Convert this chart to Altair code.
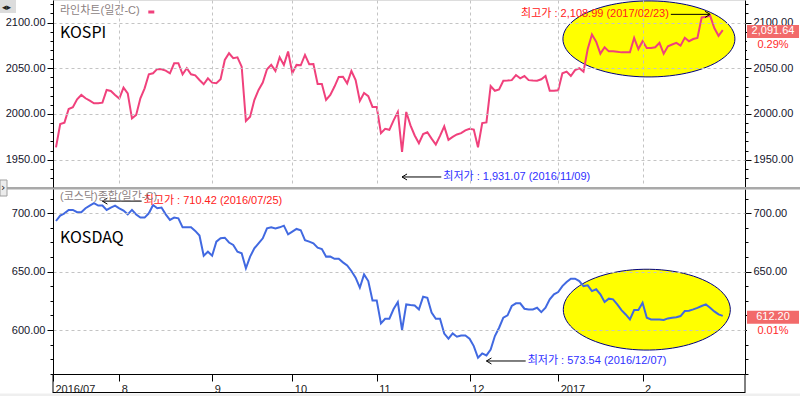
import json
import numpy as np
import pandas as pd
import altair as alt

# ---------------- data (trading-day index -> close) ----------------
kospi = [
    1963.5, 1989.0, 1990.5, 2005.5, 2007.3, 2016.1, 2020.8, 2017.2, 2014.6, 2011.7,
    2011.7, 2012.4, 2026.3, 2025.2, 2020.8, 2016.8, 2028.8, 2022.6, 1995.2, 1998.9,
    2017.2, 2028.1, 2043.4, 2044.5, 2049.3, 2048.9, 2047.4, 2044.5, 2055.5, 2055.5,
    2043.4, 2050.0, 2043.4, 2042.3, 2037.2, 2032.5, 2039.0, 2034.3, 2033.6, 2038.0,
    2059.1, 2066.4, 2061.0, 2062.0, 2051.8, 1992.3, 1997.1, 2015.3, 2026.3, 2034.3,
    2048.9, 2053.7, 2047.1, 2062.0, 2053.7, 2068.3, 2044.5, 2053.7, 2053.3, 2064.6,
    2054.4, 2054.7, 2032.8, 2032.8, 2015.3, 2020.8, 2030.0, 2040.5, 2040.8, 2033.5,
    2047.0, 2037.0, 2014.3, 2023.0, 2019.5, 2007.7, 2007.7, 1979.0, 1983.8, 1982.7,
    1993.0, 2002.2, 1958.4, 2002.2, 1987.5, 1976.5, 1968.0, 1978.0, 1980.0, 1973.0,
    1966.6, 1976.0, 1986.4, 1971.7, 1975.0, 1977.6, 1979.0, 1982.0, 1983.8, 1983.0,
    1963.6, 1990.0, 1990.8, 2030.5, 2025.4, 2026.8, 2036.4, 2036.5, 2037.0, 2042.6,
    2039.0, 2041.5, 2037.0, 2036.5, 2036.4, 2038.0, 2041.5, 2025.4, 2025.5, 2026.0,
    2044.5, 2046.3, 2041.5, 2048.0, 2050.0, 2046.3, 2071.0, 2087.0, 2079.0, 2066.0,
    2073.0, 2068.5, 2068.5, 2068.0, 2067.4, 2067.4, 2067.4, 2083.3, 2071.0, 2079.6,
    2072.2, 2072.2, 2073.0, 2077.8, 2066.0, 2074.0, 2076.0, 2077.8, 2074.8, 2083.3,
    2079.6, 2082.0, 2083.3, 2105.6, 2106.0, 2107.6, 2094.0, 2085.5, 2091.64,
]
kosdaq = [
    693.4, 698.0, 700.0, 702.9, 702.9, 700.9, 700.9, 704.3, 706.6, 708.6,
    706.6, 706.6, 702.9, 704.9, 706.6, 704.3, 702.3, 699.1, 702.9, 699.0,
    696.3, 696.3, 700.0, 707.1, 704.3, 704.9, 699.1, 694.3, 696.3, 695.7,
    688.0, 688.0, 688.0, 684.9, 681.0, 663.7, 667.1, 663.7, 675.7, 678.6,
    679.1, 675.0, 672.9, 667.1, 665.7, 652.9, 662.9, 670.0, 674.3, 678.6,
    687.1, 688.0, 687.1, 688.0, 689.4, 682.0, 684.3, 686.6, 685.5, 677.0,
    675.7, 674.3, 670.6, 669.4, 662.9, 663.0, 661.0, 661.1, 658.0, 655.4,
    650.6, 644.9, 636.3, 647.7, 642.0, 625.4, 625.4, 605.7, 609.7, 609.7,
    618.0, 624.0, 600.0, 622.0, 621.5, 621.1, 617.7, 628.6, 627.7, 615.0,
    609.7, 609.7, 597.0, 592.6, 597.1, 594.3, 595.4, 595.4, 592.6, 586.3,
    576.3, 580.0, 578.3, 583.4, 594.9, 602.0, 610.6, 612.6, 620.6, 622.9,
    622.9, 618.3, 617.7, 617.7, 619.1, 615.4, 619.1, 626.3, 630.6, 632.6,
    637.7, 641.1, 644.0, 644.0, 642.0, 637.7, 638.3, 633.4, 634.9, 630.6,
    624.0, 626.9, 626.3, 622.0, 617.1, 613.4, 609.1, 617.1, 617.1, 623.4,
    610.6, 609.1, 609.1, 609.0, 608.6, 610.0, 610.6, 611.0, 612.0, 616.3,
    616.5, 617.7, 619.0, 620.6, 622.0, 619.1, 616.0, 613.4, 612.2,
]
month_ticks = [-0.71, 15, 37, 56, 76, 98, 119, 139]
month_labels = ["2016/07", "8", "9", "10", "11", "12", "2017", "2"]
kospi_ticks = list(range(1930, 2121, 10))
kosdaq_ticks = [562.5 + 12.5 * k for k in range(13)]

# annotations: (day index of arrow head, value, label, colour, side of text)
kospi_hi = (155, 2108.99, "최고가 : 2,108.99 (2017/02/23)", "#FF2020", -1)
kospi_lo = (82, 1931.07, "최저가 : 1,931.07 (2016/11/09)", "#3030FF", 1)
kosdaq_hi = (11, 710.42, "최고가 : 710.42 (2016/07/25)", "#FF2020", 1)
kosdaq_lo = (102, 573.54, "최저가 : 573.54 (2016/12/07)", "#3030FF", 1)
kospi_pct = "0.29%"
kosdaq_pct = "0.01%"
# highlighted regions (centre day index, centre value)
kospi_zone = (140.5, 2082.1)
kosdaq_zone = (140.0, 617.5)

# ---------------- styling ----------------
FONT = "Liberation Sans, Noto Sans CJK KR, sans-serif"
KFONT = "Noto Sans CJK KR, sans-serif"
PINK = "#F0417C"
BLUE = "#4169E1"
GRID = "#C4C4C4"
LBL = "#14142B"
BOXRED = "#F26A6A"

X_DOM = [-0.71, 163.27]
TOP_DOM, TOP_RNG = [1920.1, 2124.7], [187, 0]
BOT_DOM, BOT_RNG = [562.4, 720.8], [374, 189]
ARROW = 9.3

df = pd.DataFrame({"d": list(range(len(kospi))), "kospi": kospi, "kosdaq": kosdaq})
one = pd.DataFrame({"k": [0]})


def xs():
    return alt.Scale(domain=X_DOM, nice=False, zero=False)


def ys(top):
    return alt.Scale(domain=TOP_DOM if top else BOT_DOM,
                     range=TOP_RNG if top else BOT_RNG, nice=False, zero=False)


def xnone(field="d"):
    return alt.X(f"{field}:Q", scale=xs(), axis=None)


def yaxis(vals, orient, grid):
    return alt.Axis(
        orient=orient, values=vals, title=None,
        labelExpr="datum.value % 50 === 0 ? format(datum.value, '.2f') : ''",
        tickSize={"condition": {"test": "datum.value % 50 === 0", "value": 6}, "value": 3},
        grid=grid, gridDash=[3, 3], gridColor=GRID,
        gridOpacity={"condition": {"test": "datum.value % 50 !== 0", "value": 0}, "value": 1},
        domainColor="black", tickColor="black", labelFont=FONT, labelFontSize=11,
        labelColor=LBL, labelPadding=2, labelOverlap=False, zindex=1 if grid else 0)


x_axis = alt.Axis(
    values=month_ticks, title=None,
    labelExpr=f"{json.dumps(month_labels)}[indexof({json.dumps(month_ticks)}, datum.value)]",
    grid=True, gridDash=[3, 3], gridColor=GRID,
    gridOpacity={"condition": {"test": "datum.value < 0", "value": 0}, "value": 1},
    tickSize=7, tickColor="black", domainColor="black", labelAlign="left",
    labelOffset=2, labelPadding=2, labelFont=FONT, labelFontSize=11, labelColor="#222222",
    labelOverlap=False, labelFlush=False, labelBound=False, zindex=1)


def ellipse_path(ratio, n=90):
    pts = [(np.cos(t), ratio * np.sin(t)) for t in np.linspace(0, 2 * np.pi, n, endpoint=False)]
    return "M " + " L ".join(f"{a:.4f} {b:.4f}" for a, b in pts) + " Z"


def zone(top, center, width, ratio):
    d = pd.DataFrame({"d": [center[0]], "v": [center[1]]})
    return alt.Chart(d).mark_point(
        shape=ellipse_path(ratio), size=width ** 2, filled=True, fill="#FFFF00",
        stroke="#000080", strokeWidth=1, opacity=1, fillOpacity=1, strokeOpacity=1
    ).encode(x=xnone(), y=alt.Y("v:Q", scale=ys(top), axis=None))


ARROW_PATH = "M 2 -1.2 L 0 0 L 2 1.2"


def annotation(top, ann):
    head, val, label, color, side = ann
    d = pd.DataFrame({"head": [head], "tail": [head + side * ARROW], "v": [val], "t": [label]})
    y = alt.Y("v:Q", scale=ys(top), axis=None)
    rule = alt.Chart(d).mark_rule(color="black", strokeWidth=1).encode(
        x=xnone("head"), x2="tail:Q", y=y)
    tip = alt.Chart(d).mark_point(
        shape=ARROW_PATH, size=25, filled=False, stroke="black", strokeWidth=1,
        opacity=1, angle=0 if side > 0 else 180).encode(x=xnone("head"), y=y)
    text = alt.Chart(d).mark_text(
        align="left" if side > 0 else "right", baseline="middle", dx=2 * side,
        font=FONT, fontSize=11, color=color).encode(x=xnone("tail"), y=y, text="t:N")
    return [rule, tip, text]


BOX_PATH = "M -1 -0.2 L 1 -0.2 L 1 0.3 L -1 0.3 Z"
PCT_BG_PATH = "M -1 0.33 L 1 0.33 L 1 0.82 L -1 0.82 Z"


def value_box(top, val, pct):
    d = pd.DataFrame({"v": [val], "t": [f"{val:,.2f}"], "p": [pct]})
    y = alt.Y("v:Q", scale=ys(top), axis=None)
    bg = alt.Chart(d).mark_point(shape=PCT_BG_PATH, size=52 ** 2, filled=True, fill="white",
                                 strokeWidth=0, opacity=1).encode(x=alt.value(720), y=y)
    box = alt.Chart(d).mark_point(shape=BOX_PATH, size=52 ** 2, filled=True, fill=BOXRED,
                                  strokeWidth=0, opacity=1).encode(x=alt.value(720), y=y)
    t1 = alt.Chart(d).mark_text(color="white", font=FONT, fontSize=11, baseline="middle",
                                dy=1).encode(x=alt.value(720), y=y, text="t:N")
    t2 = alt.Chart(d).mark_text(color="#FF2A2A", font=FONT, fontSize=11, baseline="middle",
                                dy=15).encode(x=alt.value(720), y=y, text="p:N")
    return [bg, box, t1, t2]


def deco_text(txt, x, y, size=11, color="#8C7F7F", font=FONT):
    return alt.Chart(one).mark_text(align="left", baseline="middle", font=font,
                                    fontSize=size, color=color).encode(
        x=alt.value(x), y=alt.value(y), text=alt.value(txt))


def hrule(x1, x2, y, color="black", w=1):
    return alt.Chart(one).mark_rule(color=color, strokeWidth=w).encode(
        x=alt.value(x1), x2=alt.value(x2), y=alt.value(y))


def vrule(x, y1, y2, color="black", w=1):
    return alt.Chart(one).mark_rule(color=color, strokeWidth=w).encode(
        x=alt.value(x), y=alt.value(y1), y2=alt.value(y2))


def rect(x1, x2, y1, y2, fill, stroke=None):
    kw = dict(fill=fill)
    if stroke:
        kw.update(stroke=stroke, strokeWidth=1)
    return alt.Chart(one).mark_rect(**kw).encode(
        x=alt.value(x1), x2=alt.value(x2), y=alt.value(y1), y2=alt.value(y2))


layers = [
    zone(True, kospi_zone, 172, 0.442),
    zone(False, kosdaq_zone, 167, 0.484),
    alt.Chart(df).mark_line(color=PINK, strokeWidth=2).encode(
        x=xnone(), y=alt.Y("kospi:Q", scale=ys(True), axis=yaxis(kospi_ticks, "left", True))),
    alt.Chart(df).mark_point(opacity=0).encode(
        x=xnone(), y=alt.Y("kospi:Q", scale=ys(True), axis=yaxis(kospi_ticks, "right", False))),
    alt.Chart(df).mark_line(color=BLUE, strokeWidth=2).encode(
        x=alt.X("d:Q", scale=xs(), axis=x_axis),
        y=alt.Y("kosdaq:Q", scale=ys(False), axis=yaxis(kosdaq_ticks, "left", True))),
    alt.Chart(df).mark_point(opacity=0).encode(
        x=xnone(), y=alt.Y("kosdaq:Q", scale=ys(False), axis=yaxis(kosdaq_ticks, "right", False))),
]
layers += annotation(True, kospi_hi) + annotation(True, kospi_lo)
layers += annotation(False, kosdaq_hi) + annotation(False, kosdaq_lo)
layers += value_box(True, kospi[-1], kospi_pct) + value_box(False, kosdaq[-1], kosdaq_pct)
layers += [
    deco_text("라인차트(일간-C)", 7, 11),
    hrule(95.3, 101.3, 12, PINK, 3),
    deco_text("KOSPI", 7, 33, 16, "black", KFONT),
    deco_text("(코스닥)종합(일간-C)", 7, 197),
    deco_text("KOSDAQ", 7, 238, 16, "black", KFONT),
    hrule(-53, 747, 188.3, "#A9A9A9", 2.5),
    hrule(0, 692, 392.5),
    vrule(0, 374, 393),
    vrule(692, 374, 393),
    rect(-53, 747, 393.5, 396, "#EFEFEF"),
    rect(-53, -37, 0, 13, "#DCDCDC"),
    deco_text("◂▸", -51, 7, 9, "#222222", "DejaVu Sans"),
    rect(-53, -46, 180, 196, "#ECECEC", "#A0A0A0"),
    deco_text("›", -52, 188, 11, "#222222", "DejaVu Sans"),
]

chart = alt.layer(*layers).resolve_scale(y="independent").resolve_axis(
    x="independent", y="independent"
).properties(
    width=692, height=374,
    padding={"left": 53, "top": 0, "right": 55, "bottom": 22},
    autosize=alt.AutoSizeParams(type="none"),
).configure_view(stroke=None).configure(background="white")

chart.save("out.html", embed_options={"renderer": "svg", "actions": False})
